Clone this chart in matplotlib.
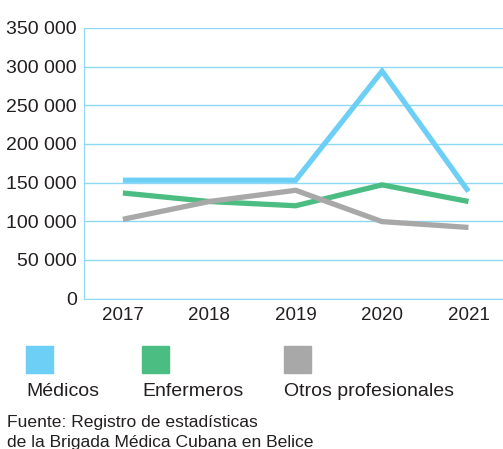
import matplotlib
matplotlib.use("Agg")
import matplotlib.pyplot as plt
from matplotlib.patches import Rectangle

plt.rcParams['font.family'] = ['Liberation Sans', 'DejaVu Sans']

years = [2017, 2018, 2019, 2020, 2021]
medicos = [153000, 153000, 153000, 294000, 138500]
enfermeros = [136500, 125500, 120000, 147000, 125500]
otros = [102500, 125500, 140000, 99500, 92000]
yticks = [0, 50000, 100000, 150000, 200000, 250000, 300000, 350000]
ytick_labels = ["0", "50 000", "100 000", "150 000", "200 000", "250 000", "300 000", "350 000"]

series_names = ["Médicos", "Enfermeros", "Otros profesionales"]
colors = ["#6dcff6", "#4cbd82", "#a8a8a8"]
grid_col = "#8ed8f4"
txt_col = "#231f20"

fig = plt.figure(figsize=(5.03, 4.49), dpi=100)
ax = fig.add_axes([0.167, 0.335, 0.833, 0.603])

for vals, c in zip([medicos, enfermeros, otros], colors):
    ax.plot(years, vals, color=c, lw=3.8, solid_capstyle='butt', solid_joinstyle='miter')

ax.set_xlim(2016.55, 2021.4)
ax.set_ylim(0, 350000)
ax.set_yticks(yticks)
ax.set_yticklabels(ytick_labels)
ax.set_xticks(years)
ax.set_xticklabels([str(y) for y in years])
ax.grid(axis='y', color=grid_col, lw=1.0)
ax.set_axisbelow(True)
for s in ['top', 'right']:
    ax.spines[s].set_visible(False)
ax.spines['left'].set_color(grid_col)
ax.spines['bottom'].set_color(grid_col)
ax.tick_params(axis='y', length=0, labelsize=14, colors=txt_col, pad=5)
ax.tick_params(axis='x', length=0, labelsize=13.5, colors=txt_col, pad=6)

# legend squares with labels under them
leg_x = [26, 142, 284]
for x0, name, c in zip(leg_x, series_names, colors):
    fig.patches.append(Rectangle((x0 / 503, 1 - 373 / 449), 27 / 503, 27 / 449,
                                 transform=fig.transFigure, color=c))
    fig.text(x0 / 503, 1 - 396 / 449, name, fontsize=14, color=txt_col, va='baseline')

fig.text(7 / 503, 1 - 426.5 / 449, "Fuente: Registro de estadísticas", fontsize=12.6,
         color=txt_col, va='baseline')
fig.text(7 / 503, 1 - 446.5 / 449, "de la Brigada Médica Cubana en Belice", fontsize=12.6,
         color=txt_col, va='baseline')

fig.savefig("out.png", dpi=100)
